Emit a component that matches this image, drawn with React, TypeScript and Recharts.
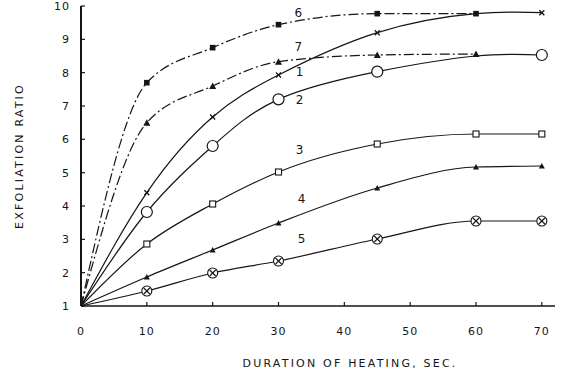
import React from 'react';
import { LineChart, Line, XAxis, YAxis, ReferenceDot } from 'recharts';

const durations = [0, 10, 20, 30, 45, 60, 70];
const curve1 = [1, 4.4, 6.67, 7.93, 9.2, 9.77, 9.8];
const curve2 = [1, 3.82, 5.8, 7.2, 8.03, 8.5, 8.53];
const curve3 = [1, 2.86, 4.06, 5.02, 5.86, 6.16, 6.16];
const curve4 = [1, 1.87, 2.68, 3.49, 4.54, 5.17, 5.2];
const curve5 = [1, 1.45, 1.99, 2.35, 3.01, 3.55, 3.55];
const curve6 = [1, 7.7, 8.75, 9.44, 9.77, 9.77, null];
const curve7 = [1, 6.5, 7.6, 8.33, 8.53, 8.56, null];

const xTicks = [0, 10, 20, 30, 40, 50, 60, 70];
const yTicks = [1, 2, 3, 4, 5, 6, 7, 8, 9, 10];

const curveLabels = [
  { name: '6', x: 33, y: 9.8 },
  { name: '7', x: 33, y: 8.77 },
  { name: '1', x: 33.2, y: 8.02 },
  { name: '2', x: 33.2, y: 7.18 },
  { name: '3', x: 33.2, y: 5.68 },
  { name: '4', x: 33.5, y: 4.21 },
  { name: '5', x: 33.5, y: 3.01 },
];

const data = durations.map((d, i) => ({
  t: d,
  c1: curve1[i],
  c2: curve2[i],
  c3: curve3[i],
  c4: curve4[i],
  c5: curve5[i],
  c6: curve6[i],
  c7: curve7[i],
}));

const INK = '#151515';
const FONT = "'DejaVu Sans', sans-serif";

const makeDot = (kind: string, hidden: number[]) => (props: any) => {
  const { cx, cy, index } = props;
  const key = `${kind}-${index}`;
  if (cx == null || cy == null || hidden.includes(index)) return <g key={key} />;
  switch (kind) {
    case 'cross':
      return (
        <g key={key} stroke={INK} strokeWidth={1.3}>
          <line x1={cx - 2.5} y1={cy - 2.5} x2={cx + 2.5} y2={cy + 2.5} />
          <line x1={cx - 2.5} y1={cy + 2.5} x2={cx + 2.5} y2={cy - 2.5} />
        </g>
      );
    case 'bigCircle':
      return <circle key={key} cx={cx} cy={cy} r={5.5} fill="#fff" stroke={INK} strokeWidth={1.2} />;
    case 'openSquare':
      return <rect key={key} x={cx - 3} y={cy - 3} width={6} height={6} fill="#fff" stroke={INK} strokeWidth={1.1} />;
    case 'smallTri':
      return <polygon key={key} points={`${cx},${cy - 3} ${cx - 3},${cy + 2.5} ${cx + 3},${cy + 2.5}`} fill={INK} />;
    case 'circleX':
      return (
        <g key={key} stroke={INK} strokeWidth={1.1}>
          <circle cx={cx} cy={cy} r={5} fill="#fff" />
          <line x1={cx - 3} y1={cy - 3} x2={cx + 3} y2={cy + 3} />
          <line x1={cx - 3} y1={cy + 3} x2={cx + 3} y2={cy - 3} />
        </g>
      );
    case 'filledSquare':
      return <rect key={key} x={cx - 2.8} y={cy - 2.8} width={5.6} height={5.6} fill={INK} />;
    case 'filledTri':
      return <polygon key={key} points={`${cx},${cy - 3.5} ${cx - 3.5},${cy + 3} ${cx + 3.5},${cy + 3}`} fill={INK} />;
    default:
      return <g key={key} />;
  }
};

const series = [
  { key: 'c6', dot: 'filledSquare', hidden: [0], dash: '10 3 2 3', curve: 'monotone' },
  { key: 'c7', dot: 'filledTri', hidden: [0], dash: '10 3 2 3', curve: 'monotone' },
  { key: 'c1', dot: 'cross', hidden: [0, 5], dash: undefined, curve: 'natural' },
  { key: 'c2', dot: 'bigCircle', hidden: [0, 5], dash: undefined, curve: 'natural' },
  { key: 'c3', dot: 'openSquare', hidden: [0], dash: undefined, curve: 'monotone' },
  { key: 'c4', dot: 'smallTri', hidden: [0], dash: undefined, curve: 'monotone' },
  { key: 'c5', dot: 'circleX', hidden: [0], dash: undefined, curve: 'monotone' },
];

const XTitle = (props: any) => {
  const vb = props.viewBox || {};
  return (
    <text
      x={vb.x + vb.width / 2 + 32}
      y={vb.y + 61}
      textAnchor="middle"
      fontFamily={FONT}
      fontSize={11}
      letterSpacing={2.2}
      fill={INK}
    >
      DURATION OF HEATING, SEC.
    </text>
  );
};

const YTitle = (props: any) => {
  const vb = props.viewBox || {};
  const cx = vb.x + 19;
  const cy = vb.y + vb.height / 2;
  return (
    <text
      x={cx}
      y={cy}
      transform={`rotate(-90 ${cx} ${cy})`}
      textAnchor="middle"
      dominantBaseline="central"
      fontFamily={FONT}
      fontSize={11}
      letterSpacing={2.2}
      fill={INK}
    >
      EXFOLIATION RATIO
    </text>
  );
};

export default function App() {
  return (
    <div style={{ position: 'absolute', left: 0, top: 0, width: 569, height: 374, background: '#fff' }}>
      <LineChart width={569} height={374} data={data} margin={{ top: 6, right: 14, bottom: 0, left: 0 }}>
        <XAxis
          dataKey="t"
          type="number"
          domain={[0, 72]}
          ticks={xTicks}
          height={68}
          tickSize={-4}
          tickMargin={25}
          axisLine={{ stroke: INK, strokeWidth: 1.5 }}
          tickLine={{ stroke: INK, strokeWidth: 1.2 }}
          tick={{ fill: INK, fontSize: 11, fontFamily: FONT, letterSpacing: 1 }}
          label={<XTitle />}
        />
        <XAxis
          xAxisId="top"
          orientation="top"
          dataKey="t"
          type="number"
          domain={[0, 72]}
          height={0}
          tick={false}
          tickLine={false}
          axisLine={{ stroke: INK, strokeWidth: 1.2 }}
        />
        <YAxis
          type="number"
          domain={[1, 10]}
          ticks={yTicks}
          width={81}
          tickSize={-4}
          tickMargin={15}
          axisLine={{ stroke: INK, strokeWidth: 2 }}
          tickLine={{ stroke: INK, strokeWidth: 1.2 }}
          tick={{ fill: INK, fontSize: 11, fontFamily: FONT, letterSpacing: 1 }}
          label={<YTitle />}
        />
        <YAxis
          yAxisId="right"
          orientation="right"
          type="number"
          domain={[1, 10]}
          width={0}
          tick={false}
          tickLine={false}
          axisLine={{ stroke: INK, strokeWidth: 1.5 }}
        />
        {series.map((s) => (
          <Line
            key={s.key}
            dataKey={s.key}
            type={s.curve as any}
            stroke={INK}
            strokeWidth={1.2}
            strokeDasharray={s.dash}
            dot={makeDot(s.dot, s.hidden)}
            activeDot={false}
            connectNulls={false}
            isAnimationActive={false}
          />
        ))}
        {curveLabels.map((l) => (
          <ReferenceDot
            key={l.name}
            x={l.x}
            y={l.y}
            r={0}
            fill="none"
            stroke="none"
            label={{ value: l.name, position: 'center', fill: INK, fontSize: 12, fontFamily: FONT }}
          />
        ))}
      </LineChart>
    </div>
  );
}
